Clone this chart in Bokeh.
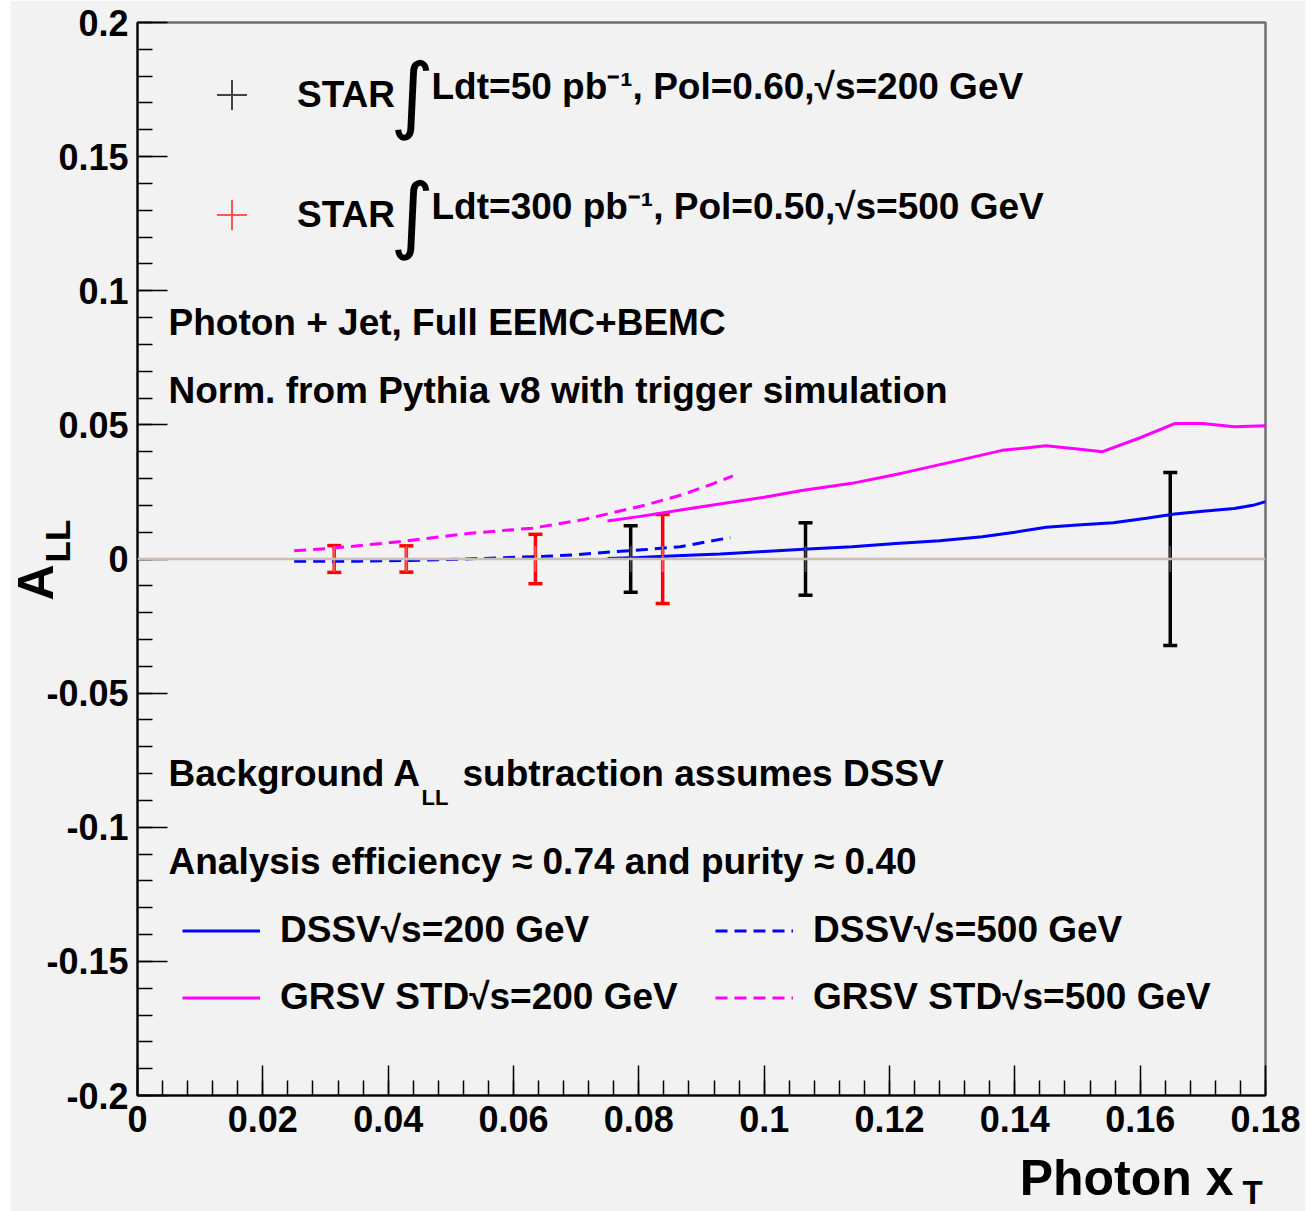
import numpy as np
from bokeh.plotting import figure
from bokeh.models import (Range1d, FixedTicker, CustomJSTickFormatter, Label, Span,
                          Whisker, TeeHead, ColumnDataSource, Legend, LegendItem, GridBox)
from bokeh.core.properties import value
from bokeh.embed import file_html
from bokeh.resources import INLINE

# ---------------- data ----------------
x_ticks = [0, 0.02, 0.04, 0.06, 0.08, 0.1, 0.12, 0.14, 0.16, 0.18]
y_ticks = [-0.2, -0.15, -0.1, -0.05, 0, 0.05, 0.1, 0.15, 0.2]

# STAR 200 GeV projected points (black)
star200_x = [0.0787, 0.1066, 0.1648]
star200_y = [0.0, 0.0, 0.0]
star200_err = [0.0124, 0.0135, 0.0322]

# STAR 500 GeV projected points (red)
star500_x = [0.0314, 0.0429, 0.0635, 0.0838]
star500_y = [0.0, 0.0, 0.0, 0.0]
star500_err = [0.0050, 0.0049, 0.0092, 0.0166]

# theory curves
dssv200_x = [0.075, 0.080, 0.086, 0.093, 0.100, 0.107, 0.114, 0.121, 0.128, 0.1348, 0.140, 0.145, 0.150, 0.1557, 0.1610, 0.1655, 0.170, 0.175, 0.178, 0.180]
dssv200_y = [0.0002, 0.0006, 0.0012, 0.0019, 0.0028, 0.0037, 0.0046, 0.0058, 0.0068, 0.0083, 0.0100, 0.0118, 0.0127, 0.0135, 0.0152, 0.0168, 0.0178, 0.0188, 0.0200, 0.0214]

grsv200_x = [0.075, 0.080, 0.090, 0.100, 0.106, 0.114, 0.122, 0.130, 0.138, 0.145, 0.150, 0.154, 0.160, 0.1655, 0.170, 0.175, 0.180]
grsv200_y = [0.0142, 0.0158, 0.0195, 0.0230, 0.0255, 0.0282, 0.0320, 0.0362, 0.0405, 0.0422, 0.0410, 0.0400, 0.0452, 0.0505, 0.0505, 0.0493, 0.0497]

dssv500_x = [0.025, 0.035, 0.045, 0.055, 0.065, 0.070, 0.076, 0.081, 0.0866, 0.0946]
dssv500_y = [-0.0008, -0.0008, -0.0005, 0.0002, 0.0010, 0.0016, 0.0027, 0.0035, 0.0046, 0.0080]

grsv500_x = [0.025, 0.031, 0.042, 0.053, 0.063, 0.071, 0.081, 0.087, 0.092, 0.095]
grsv500_y = [0.0031, 0.0040, 0.0065, 0.0096, 0.0115, 0.0146, 0.0201, 0.0240, 0.0282, 0.0310]

# ---------------- figure ----------------
BG = "#f2f2f2"
FONT = "Liberation Sans"
PAGE_W, PAGE_H = 1312, 1211
ML, MR = 10, 7                      # white page strips left / right
W = PAGE_W - ML - MR
FL, FR, FT, FB = 137, 1265, 22, 1095  # frame edges in page pixels

p = figure(width=W, height=PAGE_H, output_backend="svg", toolbar_location=None,
           x_range=Range1d(0, 0.18), y_range=Range1d(-0.2, 0.2),
           min_border_left=FL - ML, min_border_right=PAGE_W - MR - FR,
           min_border_top=FT, min_border_bottom=PAGE_H - FB,
           margin=(0, MR, 0, ML))
p.background_fill_color = BG
p.border_fill_color = BG
p.outline_line_color = "#6e6e6e"
p.outline_line_width = 2.5
p.xgrid.visible = False
p.ygrid.visible = False

fmt = CustomJSTickFormatter(code="return (Math.round(tick*1000)/1000).toString();")
p.xaxis.ticker = FixedTicker(ticks=x_ticks, minor_ticks=list(np.round(np.arange(0, 0.1801, 0.004), 4)))
p.yaxis.ticker = FixedTicker(ticks=y_ticks, minor_ticks=list(np.round(np.arange(-0.2, 0.2001, 0.01), 3)))
for ax in (p.xaxis, p.yaxis):
    ax.formatter = fmt
    ax.major_tick_in = 30
    ax.major_tick_out = 0
    ax.minor_tick_in = 15
    ax.minor_tick_out = 0
    ax.major_tick_line_width = 1.5
    ax.minor_tick_line_width = 1.5
    ax.axis_line_width = 2
    ax.axis_line_color = "black"
    ax.major_label_text_font = FONT
    ax.major_label_text_font_style = "bold"
    ax.major_label_text_font_size = "36px"
    ax.major_label_text_color = "black"
p.yaxis.major_label_standoff = 9
p.xaxis.major_label_standoff = 10

# zero line
p.add_layout(Span(location=0, dimension="width", line_color="#c9bdb1", line_width=2.5))

# theory curves
r_d200 = p.line(dssv200_x, dssv200_y, line_color="blue", line_width=3)
r_d500 = p.line(dssv500_x, dssv500_y, line_color="blue", line_width=3, line_dash="12 7")
r_g200 = p.line(grsv200_x, grsv200_y, line_color="magenta", line_width=3)
r_g500 = p.line(grsv500_x, grsv500_y, line_color="magenta", line_width=3, line_dash="12 7")

# data points
def points(xs, ys, errs, color, mark_color):
    src = ColumnDataSource(dict(x=xs, y=ys,
                                lo=[a - e for a, e in zip(ys, errs)],
                                hi=[a + e for a, e in zip(ys, errs)]))
    r = p.scatter("x", "y", source=src, marker="cross", size=26, line_width=2,
                  line_color=mark_color, fill_color=None)
    wk = Whisker(base="x", lower="lo", upper="hi", source=src, dimension="height",
                 line_color=color, line_width=3.5,
                 lower_head=TeeHead(size=14, line_color=color, line_width=3.5),
                 upper_head=TeeHead(size=14, line_color=color, line_width=3.5))
    p.add_layout(wk)
    return r

r_s200 = points(star200_x, star200_y, star200_err, "black", "#444444")
r_s500 = points(star500_x, star500_y, star500_err, "red", "#ff5555")

TXT = "37px"

# legends
top_leg = Legend(items=[LegendItem(label="STAR", renderers=[r_s200]),
                        LegendItem(label="STAR", renderers=[r_s500])],
                 location=(57, 843), orientation="vertical",
                 glyph_width=75, glyph_height=75, label_standoff=28, spacing=45,
                 padding=0, margin=0, background_fill_alpha=0, border_line_alpha=0,
                 label_text_font=FONT, label_text_font_style="bold",
                 label_text_font_size=TXT, label_text_color="black")
p.add_layout(top_leg)

bot_leg = Legend(items=[LegendItem(label="DSSV√s=200 GeV", renderers=[r_d200]),
                        LegendItem(label="GRSV STD√s=200 GeV", renderers=[r_g200]),
                        LegendItem(label="DSSV√s=500 GeV", renderers=[r_d500]),
                        LegendItem(label="GRSV STD√s=500 GeV", renderers=[r_g500])],
                 location=(45, 77), orientation="vertical", ncols=2,
                 glyph_width=78, glyph_height=37, label_height=37, label_width=410,
                 label_standoff=20, spacing=25,
                 padding=0, margin=0, background_fill_alpha=0, border_line_alpha=0,
                 label_text_font=FONT, label_text_font_style="bold",
                 label_text_font_size=TXT, label_text_color="black")
p.add_layout(bot_leg)

# text annotations (positions given in page pixels, converted to data units)
def dx(px):
    return (px - FL) / (FR - FL) * 0.18

def dy(py):
    return 0.2 - (py - FT) / (FB - FT) * 0.4

def txt(s, px, py, size=TXT, align="left", font=FONT, style="bold"):
    p.add_layout(Label(x=dx(px), y=dy(py), text=s, text_font=font, text_font_style=style,
                       text_font_size=size, text_align=align, text_baseline="middle",
                       text_color="black"))

txt("∫", 412, 93, size="84px", align="center", font="DejaVu Sans", style="normal")
txt("∫", 412, 213, size="84px", align="center", font="DejaVu Sans", style="normal")
txt("Ldt=50 pb⁻¹, Pol=0.60,√s=200 GeV", 431, 86)
txt("Ldt=300 pb⁻¹, Pol=0.50,√s=500 GeV", 431, 206)
txt("Photon + Jet, Full EEMC+BEMC", 168, 322)
txt("Norm. from Pythia v8 with trigger simulation", 168, 390)
txt("Background A", 168, 773)
txt("LL", 421, 797, size="22px")
txt("subtraction assumes DSSV", 462, 773)
txt("Analysis efficiency ≈ 0.74 and purity ≈ 0.40", 168, 861)

# ---------------- overlay for the axis titles (page pixel coordinates) ----------------
ov = figure(width=PAGE_W, height=PAGE_H, output_backend="svg", toolbar_location=None,
            x_range=Range1d(0, PAGE_W), y_range=Range1d(PAGE_H, 0),
            x_axis_location=None, y_axis_location=None,
            min_border_left=0, min_border_right=0, min_border_top=0, min_border_bottom=0)
ov.background_fill_alpha = 0
ov.border_fill_alpha = 0
ov.outline_line_color = None
ov.xgrid.visible = False
ov.ygrid.visible = False
for fig in (p, ov):
    try:
        fig.frame_align = False
    except Exception:
        pass

title_parts = dict(
    text=["Photon x", "T", "A", "LL"],
    x=[1233, 1242, 35, 57],
    y=[1177, 1192, 600, 562],
    size=["50px", "33px", "50px", "35px"],
    align=["right", "left", "left", "left"],
    angle=[0, 0, np.pi / 2, np.pi / 2],
)
ov.text(x="x", y="y", text="text", angle="angle", source=ColumnDataSource(title_parts),
        text_font=value(FONT), text_font_style="bold", text_font_size="size",
        text_align="align", text_baseline="middle", text_color="black")

layout = GridBox(children=[(p, 0, 0), (ov, 0, 0)])
open("out.html", "w").write(file_html(layout, INLINE))
